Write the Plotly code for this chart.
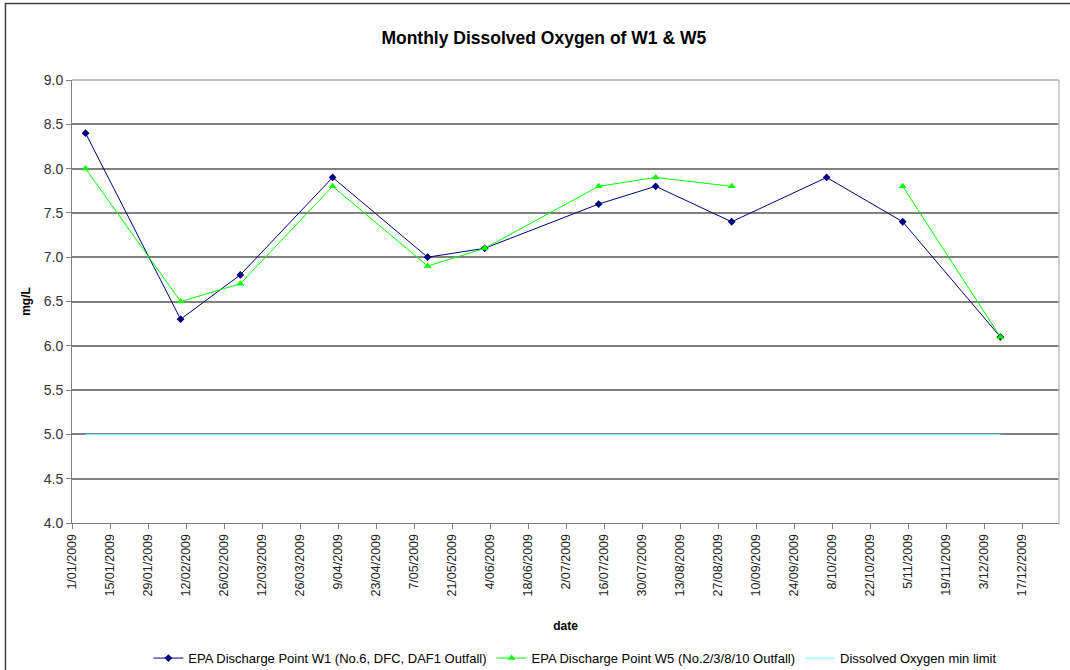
import plotly.graph_objects as go

dates = ["2009-01-06", "2009-02-10", "2009-03-04", "2009-04-07", "2009-05-12", "2009-06-02",
         "2009-07-14", "2009-08-04", "2009-09-01", "2009-10-06", "2009-11-03", "2009-12-09"]
w1 = [8.4, 6.3, 6.8, 7.9, 7.0, 7.1, 7.6, 7.8, 7.4, 7.9, 7.4, 6.1]
w5 = [8.0, 6.5, 6.7, 7.8, 6.9, 7.1, 7.8, 7.9, 7.8, None, 7.8, 6.1]
limit = [5.0] * len(dates)

names = ["EPA Discharge Point W1 (No.6, DFC, DAF1 Outfall)",
         "EPA Discharge Point W5 (No.2/3/8/10 Outfall)",
         "Dissolved Oxygen min limit"]

font = "Liberation Sans, Arial, sans-serif"

fig = go.Figure()
fig.add_trace(go.Scatter(x=dates, y=w1, name=names[0], mode="lines+markers",
                         line=dict(color="#000080", width=1),
                         marker=dict(symbol="diamond", size=6, color="#000080")))
fig.add_trace(go.Scatter(x=dates, y=w5, name=names[1], mode="lines+markers",
                         line=dict(color="#00FF00", width=1),
                         marker=dict(symbol="triangle-up", size=7, color="#00FF00"),
                         connectgaps=False))
fig.add_trace(go.Scatter(x=dates, y=limit, name=names[2], mode="lines",
                         line=dict(color="#66FFFF", width=1)))

fig.update_layout(
    width=1070, height=670,
    paper_bgcolor="white", plot_bgcolor="white",
    margin=dict(l=72, r=11, t=80, b=147, autoexpand=False),
    font=dict(family=font, color="#000000"),
    title=dict(text="<b>Monthly Dissolved Oxygen of W1 &amp; W5</b>", x=0.478, xanchor="center",
               xref="paper", y=0.943, yanchor="middle", font=dict(size=17.5, family=font)),
    showlegend=True,
    legend=dict(orientation="h", x=0.51, xanchor="center", y=-0.305, yanchor="middle",
                font=dict(size=13, family=font), itemwidth=30, tracegroupgap=0),
    shapes=[dict(type="rect", xref="paper", yref="paper", x0=-0.0674, x1=1.02,
                 y0=-0.36, y1=1.1727, line=dict(color="#404040", width=1.5)),
            dict(type="line", xref="paper", yref="paper", x0=0, x1=1, y0=1, y1=1,
                 line=dict(color="#C0C0C0", width=2)),
            dict(type="line", xref="paper", yref="paper", x0=1, x1=1, y0=0, y1=1,
                 line=dict(color="#C0C0C0", width=1.5))],
)

fig.update_xaxes(
    type="date", range=["2009-01-01", "2009-12-30 14:00"], automargin=False,
    tick0="2009-01-01", dtick=14 * 24 * 3600 * 1000, tickformat="%-d/%m/%Y",
    tickangle=-90, ticks="outside", ticklen=5, tickcolor="#808080",
    tickfont=dict(size=12.5, family=font, color="#222222"),
    showline=True, linecolor="#808080", linewidth=1, showgrid=False, zeroline=False,
    title=dict(text="<b>date</b>", font=dict(size=12, family=font), standoff=26),
)
fig.update_yaxes(
    range=[4.0, 9.0], dtick=0.5, tickformat=".1f", automargin=False,
    ticks="outside", ticklen=5, tickcolor="#808080",
    tickfont=dict(size=14, family=font, color="#333333"),
    showline=True, linecolor="#808080", linewidth=1,
    showgrid=True, gridcolor="#808080", gridwidth=2, zeroline=False,
    title=dict(text="<b>mg/L</b>", font=dict(size=12, family=font), standoff=10),
)

fig.write_html("out.html", config={"displayModeBar": False},
               post_script="document.body.style.margin='0';document.body.style.overflow='hidden';")
